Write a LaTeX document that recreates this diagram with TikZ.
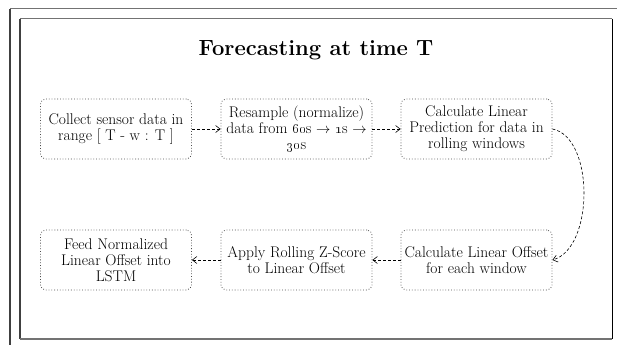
\documentclass[tikz,border=0pt]{standalone}
\usetikzlibrary{arrows.meta}
\begin{document}
\begin{tikzpicture}[x=1bp,y=-1bp,
  stepbox/.style={draw=black!70, dotted, line width=0.8bp, rounded corners=5bp,
    minimum width=151bp, minimum height=60bp, align=center,
    inner sep=0pt, font=\fontsize{15.5bp}{16bp}\selectfont},
  flow/.style={draw=black, dashed, dash pattern=on 3bp off 2bp, line width=0.6bp,
    -{Straight Barb[length=4.5bp,width=7bp,line width=0.6bp]}},
]
\useasboundingbox (0,0) rectangle (617,345);
% outer frame
\draw[black!55, line width=1.2bp] (10,8.5) -- (617,8.5);
\draw[black!75, line width=1.2bp] (10,8.5) -- (10,345);
% inner frame
\draw[black!55, line width=1.4bp] (20,18.5) -- (612,18.5);
\draw[black!75, line width=1.2bp] (20,18.5) -- (20,339);
\draw[black, line width=1bp] (612,18.5) -- (612,339);
\draw[black!55, line width=1.4bp] (20,339) -- (612,339);

\node[font=\fontsize{22bp}{26bp}\selectfont\bfseries] (title) at (316,50) {Forecasting at time T};

\node[stepbox] (a) at (116,129) {Collect sensor data in\\range [ T - w : T ]};
\node[stepbox] (b) at (296.5,129) {Resample (normalize)\\data from \oldstylenums{60}s $\rightarrow$ \oldstylenums{1}s $\rightarrow$\\\oldstylenums{30}s};
\node[stepbox] (c) at (476.5,129) {Calculate Linear\\Prediction for data in\\rolling windows};
\node[stepbox] (d) at (116,260) {Feed Normalized\\Linear Offset into\\LSTM};
\node[stepbox] (e) at (296.5,260) {Apply Rolling Z-Score\\to Linear Offset};
\node[stepbox] (f) at (476.5,260) {Calculate Linear Offset\\for each window};

\draw[flow] (a.east) -- (b.west);
\draw[flow] (b.east) -- (c.west);
\draw[flow] (c.east) .. controls +(42,8) and +(42,-12) .. (f.east);
\draw[flow] (f.west) -- (e.east);
\draw[flow] (e.west) -- (d.east);
\end{tikzpicture}
\end{document}
